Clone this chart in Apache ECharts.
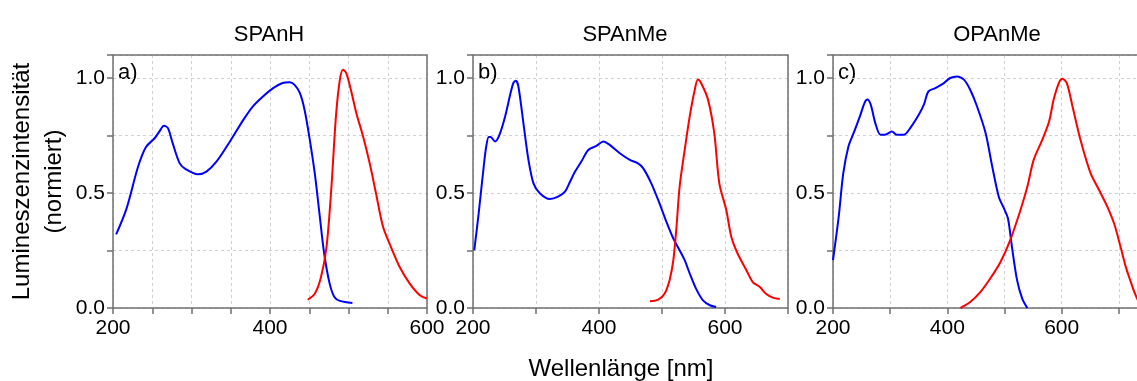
<!DOCTYPE html>
<html>
<head>
<meta charset="utf-8">
<script src="https://cdn.jsdelivr.net/npm/echarts@6/dist/echarts.min.js"></script>
<style>
  html, body { margin: 0; padding: 0; background: #fff; }
  #chart { width: 1137px; height: 381px; }
</style>
</head>
<body>
<div id="chart"></div>
<script>
const panelTitles = ['SPAnH', 'SPAnMe', 'OPAnMe']
const panelLetters = ['a)', 'b)', 'c)']
const xRanges = [[200, 600, 50], [200, 700, 100], [200, 800, 100]]
const xTickLabels = [200, 400, 600]
const yTickLabels = [0, 0.5, 1.0]

// [wavelength nm, normalized intensity]
const absSPAnH = [[204, 0.32], [217, 0.43], [232, 0.615], [242, 0.70], [253, 0.738], [259, 0.767], [265, 0.792],
  [270, 0.782], [276, 0.717], [285, 0.629], [293, 0.603], [308, 0.581], [319, 0.593], [332, 0.637], [349, 0.724],
  [366, 0.818], [378, 0.876], [391, 0.92], [404, 0.956], [416, 0.978], [425, 0.981], [431, 0.971], [438, 0.935],
  [444, 0.862], [450, 0.746], [457, 0.586], [463, 0.411], [469, 0.237], [476, 0.106], [482, 0.048], [489, 0.031], [505, 0.022]]
const emSPAnH = [[448, 0.036], [457, 0.062], [465, 0.135], [472, 0.266], [478, 0.513], [484, 0.833], [489, 0.993],
  [493, 1.036], [497, 1.022], [503, 0.949], [510, 0.847], [518, 0.753], [527, 0.629], [535, 0.499], [544, 0.353],
  [554, 0.266], [565, 0.179], [578, 0.106], [591, 0.055], [600, 0.041]]

const absSPAnMe = [[202, 0.251], [209, 0.411], [217, 0.615], [221, 0.702], [225, 0.743], [228, 0.743], [235, 0.724],
  [242, 0.753], [251, 0.833], [259, 0.927], [264, 0.978], [268, 0.988], [272, 0.964], [280, 0.804], [288, 0.644],
  [296, 0.542], [306, 0.499], [322, 0.474], [335, 0.484], [346, 0.506], [354, 0.549], [362, 0.593], [372, 0.637],
  [383, 0.687], [396, 0.705], [407, 0.724], [417, 0.709], [433, 0.673], [449, 0.644], [462, 0.629], [470, 0.608],
  [483, 0.542], [496, 0.455], [507, 0.375], [518, 0.302], [528, 0.251], [536, 0.208], [544, 0.15], [554, 0.084],
  [565, 0.033], [576, 0.012], [586, 0.004]]
const emSPAnMe = [[481, 0.029], [494, 0.036], [504, 0.062], [512, 0.121], [518, 0.208], [523, 0.353], [528, 0.528],
  [536, 0.687], [544, 0.833], [552, 0.949], [557, 0.993], [562, 0.978], [573, 0.906], [583, 0.76], [591, 0.542],
  [602, 0.426], [610, 0.31], [620, 0.237], [634, 0.164], [644, 0.113], [655, 0.092], [665, 0.062], [676, 0.045], [687, 0.039]]

const absOPAnMe = [[200, 0.208], [210, 0.397], [218, 0.586], [227, 0.702], [236, 0.76], [248, 0.84], [255, 0.891],
  [260, 0.906], [266, 0.884], [274, 0.804], [283, 0.753], [291, 0.753], [303, 0.767], [312, 0.753], [324, 0.753],
  [335, 0.782], [350, 0.84], [359, 0.884], [367, 0.942], [379, 0.956], [394, 0.978], [405, 1.0], [417, 1.007],
  [429, 0.993], [440, 0.949], [452, 0.876], [467, 0.76], [478, 0.622], [490, 0.484], [499, 0.433], [506, 0.39],
  [513, 0.266], [522, 0.121], [531, 0.041], [540, 0.0]]
const emOPAnMe = [[423, 0.0], [440, 0.026], [458, 0.07], [475, 0.128], [493, 0.2], [510, 0.295], [528, 0.426],
  [540, 0.528], [551, 0.644], [566, 0.731], [578, 0.811], [586, 0.906], [595, 0.978], [601, 0.997], [609, 0.978],
  [619, 0.876], [633, 0.73], [650, 0.59], [665, 0.515], [680, 0.44], [692, 0.365], [703, 0.266], [712, 0.18],
  [720, 0.12], [727, 0.07], [734, 0.03]]

const absData = [absSPAnH, absSPAnMe, absOPAnMe]
const emData = [emSPAnH, emSPAnMe, emOPAnMe]

const font = "'Liberation Sans', Arial, sans-serif"
const grids = [
  { left: 113, top: 55, width: 314, height: 253 },
  { left: 473, top: 55, width: 315, height: 253 },
  { left: 833, top: 55, width: 343, height: 253 }
]
const titleX = [264, 620, 992]

const chart = echarts.init(document.getElementById('chart'))

chart.setOption({
  animation: false,
  title: panelTitles.map((t, i) => ({
    text: t,
    left: titleX[i],
    top: 19,
    textAlign: 'center',
    textStyle: { fontFamily: font, fontSize: 22, fontWeight: 'normal', color: '#000' }
  })),
  grid: grids.map(g => ({
    ...g, show: true, z: 1, outerBoundsMode: 'none', containLabel: false,
    borderColor: '#707070', borderWidth: 1.5, backgroundColor: 'transparent'
  })),
  xAxis: xRanges.map((r, i) => ({
    type: 'value',
    gridIndex: i,
    min: r[0],
    max: r[1],
    interval: r[2],
    axisLine: { show: false },
    axisTick: { show: true, length: 6, lineStyle: { color: '#707070', width: 1.5 } },
    splitLine: { show: true, lineStyle: { type: [3, 3], color: '#d0d0d0', width: 1 } },
    axisLabel: {
      margin: 10,
      fontFamily: font,
      fontSize: 21,
      color: '#000',
      showMaxLabel: true,
      formatter: v => (xTickLabels.includes(v) ? String(v) : '')
    }
  })),
  yAxis: grids.map((g, i) => ({
    type: 'value',
    gridIndex: i,
    min: 0,
    max: 1.1,
    interval: 0.25,
    name: i === 0 ? 'Lumineszenzintensität\n(normiert)' : '',
    nameLocation: 'middle',
    nameRotate: 90,
    nameGap: 43,
    nameTextStyle: { fontFamily: font, fontSize: 24, color: '#000', lineHeight: 32 },
    axisLine: { show: false },
    axisTick: { show: true, length: 6, lineStyle: { color: '#707070', width: 1.5 } },
    splitLine: { show: true, lineStyle: { type: [3, 3], color: '#d0d0d0', width: 1 } },
    axisLabel: {
      margin: 8,
      fontFamily: font,
      fontSize: 21,
      color: '#000',
      formatter: v => (yTickLabels.some(t => Math.abs(t - v) < 1e-6) ? v.toFixed(1) : '')
    }
  })),
  graphic: panelLetters.map((t, i) => ({
    type: 'text',
    x: grids[i].left + 5,
    y: 62,
    style: { text: t, fontFamily: font, fontSize: 22, fill: '#000' }
  })).concat([{
    type: 'text',
    x: 621,
    y: 357,
    style: { text: 'Wellenlänge [nm]', fontFamily: font, fontSize: 24, fill: '#000', align: 'center' }
  }]),
  series: [0, 1, 2].flatMap(i => [
    {
      type: 'line', xAxisIndex: i, yAxisIndex: i, data: absData[i], smooth: 0.3,
      showSymbol: false, lineStyle: { color: '#0000ff', width: 2 }, clip: true
    },
    {
      type: 'line', xAxisIndex: i, yAxisIndex: i, data: emData[i], smooth: 0.3,
      showSymbol: false, lineStyle: { color: '#ff0000', width: 2 }, clip: true
    }
  ])
})
</script>
</body>
</html>
